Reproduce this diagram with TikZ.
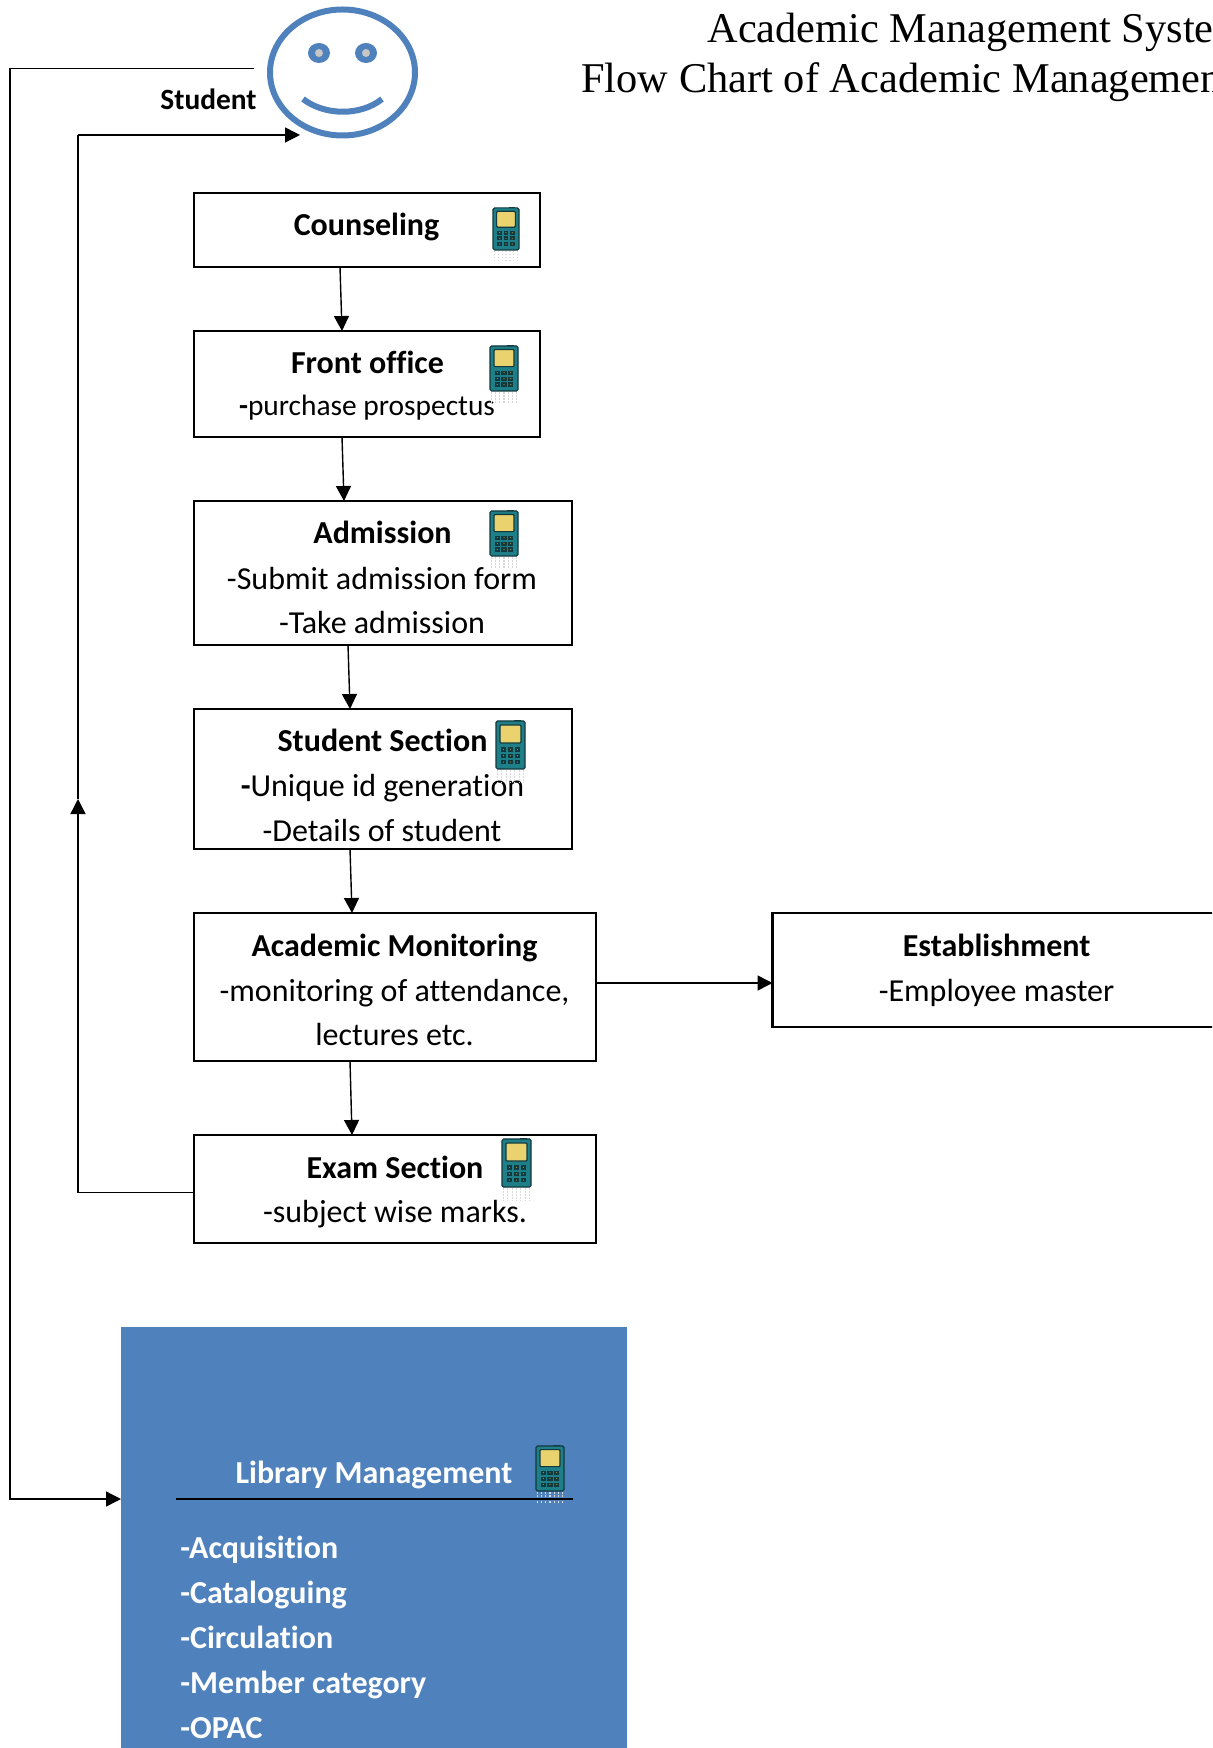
\documentclass[tikz,border=0pt]{standalone}
\usepackage{fontspec}
\setmainfont{Carlito}[Ligatures=NoCommon]
\newfontfamily\titlefont{Liberation Serif}
\usetikzlibrary{arrows.meta,calc,shapes.geometric}
\definecolor{officeblue}{HTML}{4F81BD}
\definecolor{phoneteal}{HTML}{1F7F88}
\definecolor{phoneyellow}{HTML}{EAD36E}
\definecolor{phonedark}{HTML}{12393D}
\newcommand{\phoneicon}[4]{%
\begin{scope}[shift={(#1,#2)},x={#3*0.5pt},y={-#4*0.5pt}]
  \foreach \cx in {0.05,0.2,0.35,0.5,0.65,0.8,0.95}{
    \draw[gray!30,line width=0.6pt,dash pattern=on 0.6pt off 0.9pt] (\cx,1.03) -- (\cx,1.28);
  }
  \fill[phonedark] (0.62,0) rectangle (0.86,0.05);
  \filldraw[fill=phoneteal,draw=phonedark,line width=0.6pt,rounded corners=0.8pt] (0,0.02) rectangle (1,1);
  \filldraw[fill=phoneyellow,draw=phonedark,line width=0.6pt,rounded corners=0.5pt] (0.14,0.1) rectangle (0.86,0.47);
  \foreach \cx in {0.26,0.5,0.74}{\foreach \cy in {0.6,0.73,0.86}{
    \fill[phonedark] (\cx-0.09,\cy-0.045) rectangle (\cx+0.09,\cy+0.045);
    \fill[phoneyellow!70!black] (\cx,\cy) circle[radius=0.3pt];
  }}
\end{scope}}
\tikzset{
  x=0.5pt,y=-0.5pt,
  flowbox/.style={draw=black,line width=1.1pt,fill=white,anchor=north west,inner sep=0pt,outer sep=0pt},
  bodytext/.style={anchor=base,inner sep=0pt,font=\fontsize{16}{19}\selectfont},
  headtext/.style={bodytext,font=\fontsize{16}{19}\selectfont\bfseries},
  libtext/.style={anchor=base west,inner sep=0pt,text=white,font=\fontsize{16}{19}\selectfont\bfseries},
  titletext/.style={anchor=base west,inner sep=0pt,font=\fontsize{21.2}{25}\titlefont},
  link/.style={draw=black,line width=0.7pt,-{Triangle[length=7.5pt,width=7.5pt]}},
  plainlink/.style={draw=black,line width=0.7pt},
}
\begin{document}
\begin{tikzpicture}
\clip (0,0) rectangle (1212,1748);
\fill[white] (0,0) rectangle (1212,1748);

% title
\node[titletext] (t1) at (707,43) {Academic Management Syste};
\node[titletext] (t2) at (581,93) {Flow Chart of Academic Managemen};

% smiley
\node[draw=officeblue,line width=3pt,ellipse,minimum width=72.5pt,minimum height=63pt,inner sep=0pt] (face) at (342.5,72.5) {};
\fill[officeblue] (319,53) ellipse[x radius=11,y radius=10];
\fill[officeblue] (366,53) ellipse[x radius=11,y radius=10];
\fill[gray!45] (319,53) circle[radius=2pt];
\fill[gray!45] (366,53) circle[radius=2pt];
\draw[officeblue,line width=3pt] (303,99) .. controls (325,116) and (361,116) .. (382,99);
\node[headtext,anchor=base east,font=\fontsize{14.7}{17}\selectfont\bfseries] (stu) at (257,110) {Student};

% boxes
\node[flowbox,minimum width=173pt,minimum height=37pt] (couns) at (194,193) {};
\node[flowbox,minimum width=173pt,minimum height=53pt] (front) at (194,331) {};
\node[flowbox,minimum width=189pt,minimum height=72pt] (adm) at (194,501) {};
\node[flowbox,minimum width=189pt,minimum height=70pt] (sect) at (194,709) {};
\node[flowbox,minimum width=201pt,minimum height=74pt] (acad) at (194,913) {};
\node[flowbox,minimum width=201pt,minimum height=54pt] (exam) at (194,1135) {};
\node[flowbox,minimum width=260pt,minimum height=57pt] (estab) at (772.5,913) {};
\node[anchor=north west,fill=officeblue,inner sep=0pt,minimum width=253pt,minimum height=220pt] (lib) at (121,1327) {};

% box texts
\node[headtext] (couns1) at (366.5,236) {Counseling};
\node[headtext] (front1) at (367.5,374) {Front office};
\node[bodytext,font=\fontsize{14.7}{18}\selectfont] (front2) at (367,416) {{\bfseries -}purchase prospectus};
\node[headtext] (adm1) at (382.5,544) {Admission};
\node[bodytext] (adm2) at (382,589) {-Submit admission form};
\node[bodytext] (adm3) at (382,633) {-Take admission};
\node[headtext] (sect1) at (382.5,751) {Student Section};
\node[bodytext] (sect2) at (382.5,796) {{\bfseries -}Unique id generation};
\node[bodytext] (sect3) at (382,841) {-Details of student};
\node[headtext] (acad1) at (394.5,956) {Academic Monitoring};
\node[bodytext] (acad2) at (394.5,1001) {-monitoring of attendance,};
\node[bodytext] (acad3) at (394.5,1045) {lectures etc.};
\node[headtext] (exam1) at (395,1178) {Exam Section};
\node[bodytext] (exam2) at (395,1222) {-subject wise marks.};
\node[headtext] (estab1) at (996.5,956) {Establishment};
\node[bodytext] (estab2) at (996.5,1001) {-Employee master};

% library
\node[anchor=base,inner sep=0pt,text=white,font=\fontsize{16}{19}\selectfont\bfseries] (lib0) at (374,1483) {Library Management};
\node[libtext] (lib1) at (180,1558) {-Acquisition};
\node[libtext] (lib2) at (180,1603) {-Cataloguing};
\node[libtext] (lib3) at (180,1648) {-Circulation};
\node[libtext] (lib4) at (180,1693) {-Member category};
\node[libtext] (lib5) at (180,1738) {-OPAC};
\coordinate (libl) at (176,1499);
\coordinate (libr) at (573,1499);

% phones
\phoneicon{493}{207}{26}{43}
\phoneicon{490}{345}{28}{46}
\phoneicon{490}{510}{28}{46}
\phoneicon{496}{720}{29}{49}
\phoneicon{502}{1138}{29}{49}
\phoneicon{536}{1445}{28}{46}
\draw[plainlink,line width=0.6pt] (libl) -- (libr);

% connectors
\draw[link] ($(couns.south west)+(146,0)$) -- ($(front.north west)+(148,0)$);
\draw[link] ($(front.south west)+(148,0)$) -- ($(adm.north west)+(150,0)$);
\draw[link] ($(adm.south west)+(154,0)$) -- ($(sect.north west)+(156,0)$);
\draw[link] ($(sect.south west)+(156,0)$) -- ($(acad.north west)+(158,0)$);
\draw[link] ($(acad.south west)+(156,0)$) -- ($(exam.north west)+(158,0)$);
\draw[link] ($(acad.south east)+(0,-78)$) -- ($(estab.north west)+(0,70)$);
% student -> library
\coordinate (s1) at (254,68.5);
\coordinate (s2) at (10,68.5);
\draw[link] (s1) -- (s2) |- ($(lib.north west)+(0,172)$);
% exam -> student
\coordinate (e1) at (78,1192.5);
\coordinate (e2) at (78,799);
\coordinate (e3) at (78,135);
\coordinate (e4) at (300,135);
\draw[plainlink] ($(exam.north west)+(0,57.5)$) -- (e1);
\draw[link] (e1) -- (e2);
\draw[plainlink] (e2) -- (e3);
\draw[link] (e3) -- (e4);
\end{tikzpicture}
\end{document}
